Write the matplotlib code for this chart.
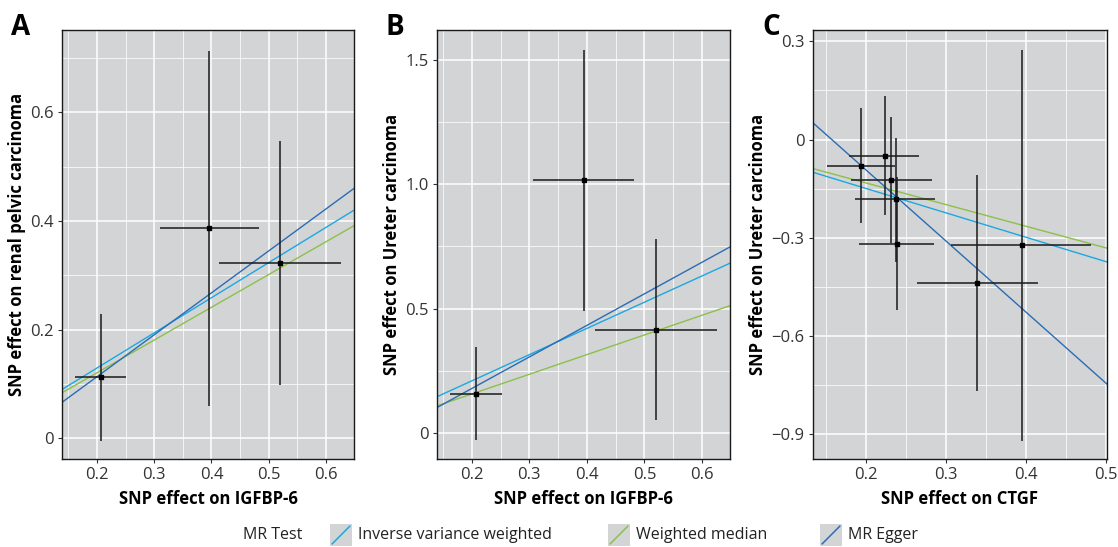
import numpy as np
import matplotlib
matplotlib.use("Agg")
import matplotlib.pyplot as plt
from matplotlib.patches import Rectangle
from matplotlib.lines import Line2D
from matplotlib.ticker import MultipleLocator

plt.rcParams['font.family'] = ['Open Sans', 'DejaVu Sans']

# ---- data ----
# Panel A: IGFBP-6 -> renal pelvic carcinoma
a_bx = [0.207, 0.395, 0.520]
a_bx_lo = [0.162, 0.310, 0.413]
a_bx_hi = [0.251, 0.483, 0.627]
a_by = [0.112, 0.388, 0.323]
a_by_lo = [-0.004, 0.059, 0.099]
a_by_hi = [0.228, 0.712, 0.548]

# Panel B: IGFBP-6 -> ureter carcinoma
b_bx = [0.2075, 0.395, 0.520]
b_bx_lo = [0.163, 0.306, 0.414]
b_bx_hi = [0.252, 0.481, 0.626]
b_by = [0.157, 1.016, 0.415]
b_by_lo = [-0.027, 0.492, 0.053]
b_by_hi = [0.345, 1.537, 0.781]

# Panel C: CTGF -> ureter carcinoma
c_bx = [0.1945, 0.2236, 0.232, 0.2375, 0.2388, 0.339, 0.395]
c_bx_lo = [0.152, 0.1795, 0.1813, 0.1866, 0.192, 0.2645, 0.3066]
c_bx_hi = [0.2366, 0.267, 0.2825, 0.287, 0.285, 0.415, 0.4816]
c_by = [-0.0806, -0.0501, -0.1234, -0.1823, -0.3179, -0.438, -0.322]
c_by_lo = [-0.2556, -0.231, -0.3166, -0.3728, -0.520, -0.767, -0.919]
c_by_hi = [0.0956, 0.133, 0.068, 0.004, -0.1133, -0.108, 0.273]

# MR estimates (slope, intercept)
methods = ['Inverse variance weighted', 'Weighted median', 'MR Egger']
colors = ['#1ba8e2', '#8cc04a', '#2b6cb5']
a_fits = [(0.647, 0.0), (0.603, 0.0), (0.772, -0.041)]
b_fits = [(1.053, 0.0), (0.790, 0.0), (1.267, -0.0734)]
c_fits = [(-0.745, 0.0), (-0.661, 0.0), (-2.170, 0.342)]

panels = [
    dict(letter='A', bx=a_bx, bxl=a_bx_lo, bxh=a_bx_hi, by=a_by, byl=a_by_lo, byh=a_by_hi,
         fits=a_fits, xlim=(0.139, 0.649), ylim=(-0.038, 0.7515),
         xmaj=0.1, ymaj=0.2, ymin=0.1,
         xlabel='SNP effect on IGFBP-6', ylabel='SNP effect on renal pelvic carcinoma',
         pos=[0.0555, 0.1609, 0.2612, 0.7843], lx=11),
    dict(letter='B', bx=b_bx, bxl=b_bx_lo, bxh=b_bx_hi, by=b_by, byl=b_by_lo, byh=b_by_hi,
         fits=b_fits, xlim=(0.140, 0.649), ylim=(-0.103, 1.619),
         xmaj=0.1, ymaj=0.5, ymin=0.25,
         xlabel='SNP effect on IGFBP-6', ylabel='SNP effect on Ureter carcinoma',
         pos=[0.3911, 0.1609, 0.2621, 0.7843], lx=386),
    dict(letter='C', bx=c_bx, bxl=c_bx_lo, bxh=c_bx_hi, by=c_by, byl=c_by_lo, byh=c_by_hi,
         fits=c_fits, xlim=(0.1337, 0.5016), ylim=(-0.975, 0.3345),
         xmaj=0.1, ymaj=0.3, ymin=0.15,
         xlabel='SNP effect on CTGF', ylabel='SNP effect on Ureter carcinoma',
         pos=[0.7269, 0.1609, 0.2633, 0.7843], lx=762),
]


def fmt(v):
    if abs(v) < 1e-9:
        return '0'
    return f'{v:.1f}'.replace('-', '\u2212')


fig = plt.figure(figsize=(11.18, 5.47), dpi=100)
bg = '#d3d4d6'

for p in panels:
    ax = fig.add_axes(p['pos'])
    ax.set_facecolor(bg)
    ax.xaxis.set_major_locator(MultipleLocator(p['xmaj']))
    ax.xaxis.set_minor_locator(MultipleLocator(p['xmaj'] / 2))
    ax.yaxis.set_major_locator(MultipleLocator(p['ymaj']))
    ax.yaxis.set_minor_locator(MultipleLocator(p['ymin']))
    ax.set_xlim(*p['xlim'])
    ax.set_ylim(*p['ylim'])
    yt = [v for v in ax.get_yticks() if p['ylim'][0] <= v <= p['ylim'][1]]
    xt = [v for v in ax.get_xticks() if p['xlim'][0] <= v <= p['xlim'][1] + 0.005]
    ax.set_yticks(yt)
    ax.set_yticklabels([fmt(v) for v in yt])
    ax.set_xticks(xt)
    ax.set_xticklabels([fmt(v) for v in xt])
    ax.set_xlim(*p['xlim'])
    ax.set_ylim(*p['ylim'])
    ax.grid(which='major', color='white', lw=1.1)
    ax.grid(which='minor', color='white', lw=0.55)
    ax.set_axisbelow(True)
    ax.tick_params(which='minor', length=0)
    ax.tick_params(which='major', length=3, width=0.8, color='#333333', pad=3,
                   labelsize=12, labelcolor='#333333')
    for s in ax.spines.values():
        s.set_color('#1a1a1a')
        s.set_linewidth(1.0)

    bx = np.array(p['bx']); by = np.array(p['by'])
    ax.hlines(by, p['bxl'], p['bxh'], color='#1a1a1a', lw=1.1, zorder=3)
    ax.vlines(bx, p['byl'], p['byh'], color='#1a1a1a', lw=1.1, zorder=3)
    ax.plot(bx, by, 's', color='black', ms=2.2, zorder=4)

    xs = np.array(p['xlim'])
    for (slope, icpt), col in zip(p['fits'], colors):
        ax.plot(xs, icpt + slope * xs, color=col, lw=1.0, zorder=2)

    ax.set_xlabel(p['xlabel'], fontsize=12, fontweight='bold', labelpad=5)
    ax.set_ylabel(p['ylabel'], fontsize=12, fontweight='bold', labelpad=3)

    fig.text(p['lx'] / 1118, 1 - 35 / 547, p['letter'], fontsize=20,
             fontweight='bold', va='baseline')

# legend
ly = 1 - 535 / 547
fig.text(243 / 1118, ly, 'MR Test', fontsize=11.5, va='center', color='#222222')
key_x = [330, 608, 820]
for kx, name, col in zip(key_x, methods, colors):
    x0 = kx / 1118; w = 22 / 1118
    y0 = 1 - 546 / 547; h = 22 / 547
    fig.add_artist(Rectangle((x0, y0), w, h, transform=fig.transFigure,
                             facecolor=bg, edgecolor='none'))
    fig.add_artist(Line2D([x0 + 0.1 * w, x0 + 0.9 * w], [y0 + 0.1 * h, y0 + 0.9 * h],
                          transform=fig.transFigure, color=col, lw=1.1))
    fig.text((kx + 28) / 1118, ly, name, fontsize=11.5, va='center', color='#222222')

fig.savefig('out.png', dpi=100)
